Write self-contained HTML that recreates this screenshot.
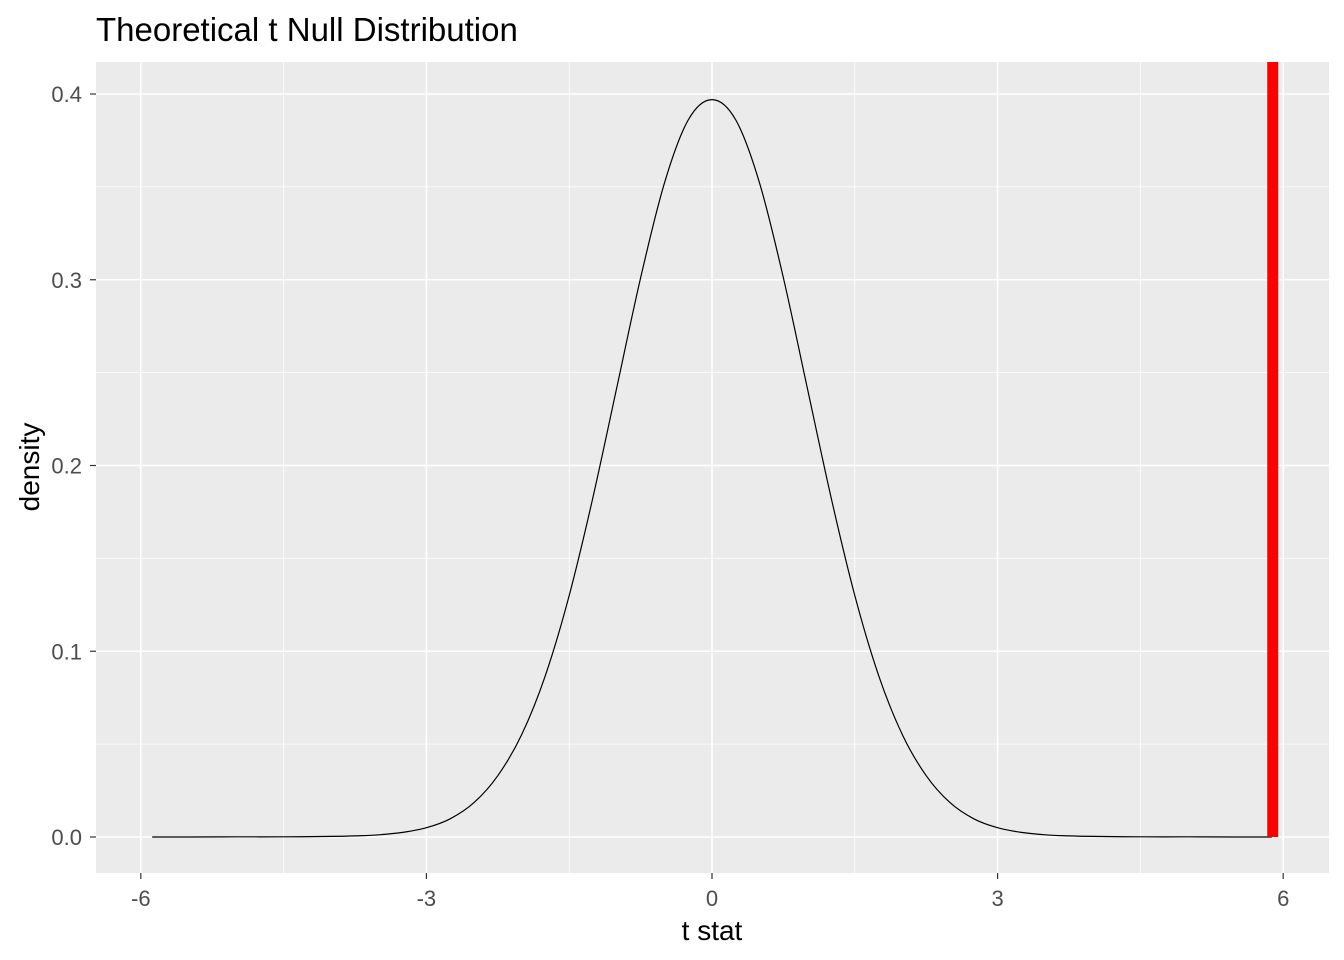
<!DOCTYPE html>
<html><head><meta charset="utf-8"><style>
body{margin:0;background:#fff}
svg{display:block;font-family:"Liberation Sans",Arial,sans-serif}
</style></head><body>
<svg id="chart" width="1344" height="960">
<text x="96" y="41" font-size="33" fill="#000">Theoretical t Null Distribution</text>
<rect x="96" y="62" width="1233" height="811" fill="#EBEBEB"/>
<g id="grid"></g><g id="marks"></g><g id="axes"></g>
<text x="712" y="940" font-size="28" text-anchor="middle" fill="#000">t stat</text>
<text transform="translate(39,467) rotate(-90)" font-size="28" text-anchor="middle" fill="#000">density</text>
</svg>
<script>
const xTicks=[-6,-3,0,3,6];
const xMinor=[-4.5,-1.5,1.5,4.5];
const yTicks=[0,0.1,0.2,0.3,0.4];
const yTickLabels=["0.0","0.1","0.2","0.3","0.4"];
const yMinor=[0.05,0.15,0.25,0.35];
const tValues=[-5.88,-5.5,-5,-4.5,-4,-3.75,-3.5,-3.25,-3,-2.75,-2.5,-2.25,-2,-1.75,-1.5,-1.25,-1,-0.75,-0.5,-0.25,0,0.25,0.5,0.75,1,1.25,1.5,1.75,2,2.25,2.5,2.75,3,3.25,3.5,3.75,4,4.5,5,5.5,5.88];
const densityValues=[0,0,0.0001,0.0001,0.0003,0.0006,0.0012,0.0025,0.005,0.0098,0.0185,0.033,0.055,0.087,0.13,0.183,0.242,0.301,0.352,0.386,0.397,0.386,0.352,0.301,0.242,0.183,0.13,0.087,0.055,0.033,0.0185,0.0098,0.005,0.0025,0.0012,0.0006,0.0003,0.0001,0.0001,0,0];
const observedStat=[5.89];
const NS="http://www.w3.org/2000/svg";
const X=v=>712+v*95.2, Y=v=>837-v*1857.5;
function mk(tag,attrs,parent){const e=document.createElementNS(NS,tag);for(const k in attrs)e.setAttribute(k,attrs[k]);parent.appendChild(e);return e;}
const grid=document.getElementById('grid'),marks=document.getElementById('marks'),axes=document.getElementById('axes');
xMinor.forEach(v=>{const l=mk('line',{x1:X(v),x2:X(v),y1:62,y2:873,stroke:'#fff','stroke-width':0.8},grid);

});
yMinor.forEach(v=>{const l=mk('line',{x1:96,x2:1329,y1:Y(v),y2:Y(v),stroke:'#fff','stroke-width':0.8},grid);

});
xTicks.forEach(v=>{const l=mk('line',{x1:X(v),x2:X(v),y1:62,y2:873,stroke:'#fff','stroke-width':1.6},grid);


const t=mk('line',{x1:X(v),x2:X(v),y1:873,y2:879,stroke:'#333','stroke-width':1.2},axes);


const tx=mk('text',{x:X(v),y:906,'font-size':22,'text-anchor':'middle',fill:'#4D4D4D'},axes);tx.textContent=String(v);

});
yTicks.forEach((v,i)=>{const l=mk('line',{x1:96,x2:1329,y1:Y(v),y2:Y(v),stroke:'#fff','stroke-width':1.6},grid);


const t=mk('line',{x1:90,x2:96,y1:Y(v),y2:Y(v),stroke:'#333','stroke-width':1.2},axes);


const tx=mk('text',{x:82,y:Y(v)+8,'font-size':22,'text-anchor':'end',fill:'#4D4D4D'},axes);tx.textContent=yTickLabels[i];

});
// smooth Catmull-Rom path through the data points
const pts=tValues.map((t,i)=>[X(t),Y(densityValues[i])]);
let d='M'+pts[0][0].toFixed(1)+','+pts[0][1].toFixed(1);
for(let i=0;i<pts.length-1;i++){const p0=pts[Math.max(0,i-1)],p1=pts[i],p2=pts[i+1],p3=pts[Math.min(pts.length-1,i+2)];
const c1=[p1[0]+(p2[0]-p0[0])/6,p1[1]+(p2[1]-p0[1])/6],c2=[p2[0]-(p3[0]-p1[0])/6,p2[1]-(p3[1]-p1[1])/6];
d+=' C'+c1.map(n=>n.toFixed(1)).join(',')+' '+c2.map(n=>n.toFixed(1)).join(',')+' '+p2.map(n=>n.toFixed(1)).join(',');}
const p=mk('path',{d:d,fill:'none',stroke:'#000','stroke-width':1.2,'stroke-linejoin':'round'},marks);


observedStat.forEach(v=>{const r=mk('line',{x1:X(v),x2:X(v),y1:62,y2:837,stroke:'#FF0000','stroke-width':11},marks);

});
</script>
</body></html>
